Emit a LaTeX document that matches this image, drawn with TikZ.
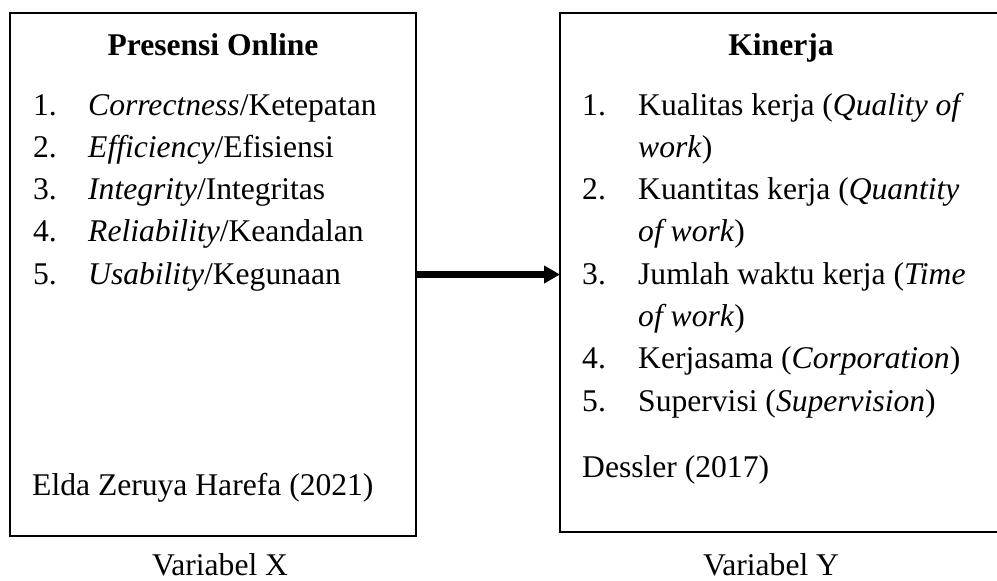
\documentclass[tikz,border=0pt]{standalone}
\usepackage{fontspec}
\setmainfont{Liberation Serif}
\usetikzlibrary{arrows.meta}
\begin{document}
\begin{tikzpicture}[x=1pt,y=-1pt,
  frame/.style={draw, line width=2.8pt, inner sep=0pt, outer sep=0pt},
  txt/.style={anchor=base west, inner sep=0pt, font=\fontsize{31.6}{42}\selectfont},
  title/.style={anchor=base, inner sep=0pt, font=\fontsize{31.6}{42}\selectfont\bfseries},
  caption/.style={anchor=base, inner sep=0pt, font=\fontsize{31.6}{42}\selectfont},
  link/.style={line width=6.5pt, -{Triangle[length=16pt,width=17pt]}}]
\useasboundingbox (0,0) rectangle (997,581);

% variable boxes
\node[frame, minimum width=406pt, minimum height=523pt] (lbox) at (213,274.5) {};
\node[frame, minimum width=443pt, minimum height=519pt] (rbox) at (781.5,272.5) {};

% left box: Presensi Online
\node[title] (ltitle) at (213,55) {Presensi Online};
\node[txt] (ln1) at (33,115) {1.};
\node[txt] (lt1) at (88,115) {\textit{Correctness}/Ketepatan};
\node[txt] (ln2) at (33,157.3) {2.};
\node[txt] (lt2) at (88,157.3) {\textit{Efficiency}/Efisiensi};
\node[txt] (ln3) at (33,199.6) {3.};
\node[txt] (lt3) at (88,199.6) {\textit{Integrity}/Integritas};
\node[txt] (ln4) at (33,241.9) {4.};
\node[txt] (lt4) at (88,241.9) {\textit{Reliability}/Keandalan};
\node[txt] (ln5) at (33,284.2) {5.};
\node[txt] (lt5) at (88,284.2) {\textit{Usability}/Kegunaan};
\node[txt] (lsrc) at (32,495) {Elda Zeruya Harefa (2021)};

% right box: Kinerja
\node[title] (rtitle) at (781,55) {Kinerja};
\node[txt] (rn1) at (582,115) {1.};
\node[txt] (rt1) at (638,115) {Kualitas kerja (\textit{Quality of}};
\node[txt] (rt1b) at (638,157.3) {\textit{work})};
\node[txt] (rn2) at (582,199.6) {2.};
\node[txt] (rt2) at (638,199.6) {Kuantitas kerja (\textit{Quantity}};
\node[txt] (rt2b) at (638,241.9) {\textit{of work})};
\node[txt] (rn3) at (582,284.2) {3.};
\node[txt] (rt3) at (638,284.2) {Jumlah waktu kerja (\textit{Time}};
\node[txt] (rt3b) at (638,326.5) {\textit{of work})};
\node[txt] (rn4) at (582,368.8) {4.};
\node[txt] (rt4) at (638,368.8) {Kerjasama (\textit{Corporation})};
\node[txt] (rn5) at (582,411.1) {5.};
\node[txt] (rt5) at (638,411.1) {Supervisi (\textit{Supervision})};
\node[txt] (rsrc) at (582,477) {Dessler (2017)};

% captions
\node[caption] (lcap) at (220,575) {Variabel X};
\node[caption] (rcap) at (771,575) {Variabel Y};

% relation X -> Y
\draw[link] (lbox.east) -- (lbox.east -| rbox.west);
\end{tikzpicture}
\end{document}
